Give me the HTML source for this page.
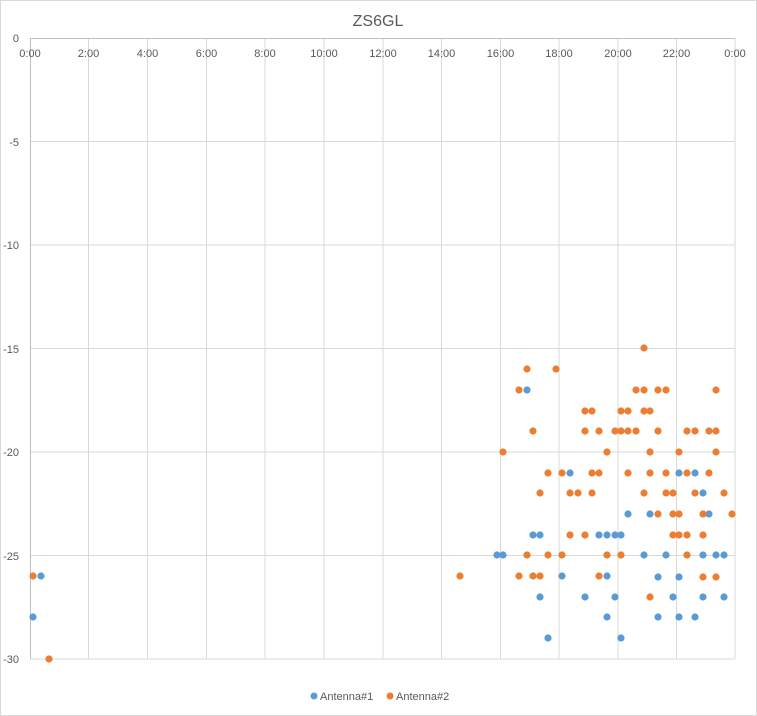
<!DOCTYPE html>
<html><head><meta charset="utf-8"><style>
html,body{margin:0;padding:0;background:#fff}
svg{display:block}
text{font-family:"Liberation Sans",sans-serif;fill:#595959}
</style></head><body>
<svg width="757" height="716" viewBox="0 0 757 716" xmlns="http://www.w3.org/2000/svg">
<rect x="0.5" y="0.5" width="756" height="715" fill="#fff" stroke="#d9d9d9"/>
<text x="378" y="26" font-size="16" text-anchor="middle">ZS6GL</text>
<g stroke="#d9d9d9" stroke-width="1">
<line x1="30" y1="141.5" x2="735" y2="141.5"/>
<line x1="30" y1="245" x2="735" y2="245"/>
<line x1="30" y1="348.5" x2="735" y2="348.5"/>
<line x1="30" y1="452" x2="735" y2="452"/>
<line x1="30" y1="555.5" x2="735" y2="555.5"/>
<line x1="30" y1="659" x2="735" y2="659"/>
<line x1="88.5" y1="38" x2="88.5" y2="659"/>
<line x1="147.5" y1="38" x2="147.5" y2="659"/>
<line x1="206.5" y1="38" x2="206.5" y2="659"/>
<line x1="265" y1="38" x2="265" y2="659"/>
<line x1="324" y1="38" x2="324" y2="659"/>
<line x1="383" y1="38" x2="383" y2="659"/>
<line x1="441.5" y1="38" x2="441.5" y2="659"/>
<line x1="500.5" y1="38" x2="500.5" y2="659"/>
<line x1="559" y1="38" x2="559" y2="659"/>
<line x1="618" y1="38" x2="618" y2="659"/>
<line x1="676.5" y1="38" x2="676.5" y2="659"/>
<line x1="735" y1="38" x2="735" y2="659"/>
</g>
<g stroke="#bfbfbf"><line x1="30.5" y1="38" x2="30.5" y2="659"/><line x1="30" y1="38.5" x2="735" y2="38.5"/></g>
<g font-size="11" text-anchor="end">
<text x="19" y="42">0</text><text x="19" y="146">-5</text><text x="19" y="249">-10</text>
<text x="19" y="353">-15</text><text x="19" y="456">-20</text><text x="19" y="560">-25</text><text x="19" y="663">-30</text>
</g>
<g font-size="11" text-anchor="middle">
<text x="30" y="57">0:00</text><text x="88.5" y="57">2:00</text><text x="147.5" y="57">4:00</text>
<text x="206.5" y="57">6:00</text><text x="265" y="57">8:00</text><text x="324" y="57">10:00</text>
<text x="383" y="57">12:00</text><text x="441.5" y="57">14:00</text><text x="500.5" y="57">16:00</text>
<text x="559" y="57">18:00</text><text x="618" y="57">20:00</text><text x="676.5" y="57">22:00</text>
<text x="735" y="57">0:00</text>
</g>
<g id="dots"></g>
<circle cx="314" cy="696" r="3.5" fill="#5b9bd5"/>
<text x="320" y="700" font-size="11">Antenna#1</text>
<circle cx="390" cy="696" r="3.5" fill="#ed7d31"/>
<text x="396" y="700" font-size="11">Antenna#2</text>
</svg>
<script>
var B=[[41,576],[33,617],[527,390],[570,473],[628,514],[533,535],[540,535],[599,535],[607,535],[615,535],[621,535],[497,555],[503,555],[562,576],[607,576],[540,597],[585,597],[615,597],[607,617],[548,638],[621,638],[679,473],[695,473],[703,493],[650,514],[709,514],[644,555],[666,555],[703,555],[716,555],[724,555],[658,577],[679,577],[673,597],[703,597],[724,597],[658,617],[679,617],[695,617]];
var O=[[33,576],[49,659],[460,576],[527,369],[556,369],[519,390],[585,411],[592,411],[621,411],[628,411],[533,431],[585,431],[599,431],[615,431],[621,431],[628,431],[503,452],[607,452],[548,473],[562,473],[592,473],[599,473],[628,473],[540,493],[570,493],[578,493],[592,493],[570,535],[585,535],[527,555],[548,555],[562,555],[607,555],[621,555],[519,576],[533,576],[540,576],[599,576],[644,348],[636,390],[644,390],[658,390],[666,390],[716,390],[644,411],[650,411],[636,431],[658,431],[687,431],[695,431],[709,431],[716,431],[650,452],[679,452],[716,452],[650,473],[666,473],[687,473],[709,473],[644,493],[666,493],[673,493],[695,493],[724,493],[658,514],[673,514],[679,514],[703,514],[732,514],[673,535],[679,535],[687,535],[703,535],[687,555],[703,577],[716,577],[650,597]];
var g=document.getElementById('dots'),s='';
B.forEach(function(p){s+='<circle cx="'+p[0]+'" cy="'+p[1]+'" r="3.6" fill="#5b9bd5"/>';});
O.forEach(function(p){s+='<circle cx="'+p[0]+'" cy="'+p[1]+'" r="3.6" fill="#ed7d31"/>';});
g.innerHTML=s;
</script>
</body></html>
